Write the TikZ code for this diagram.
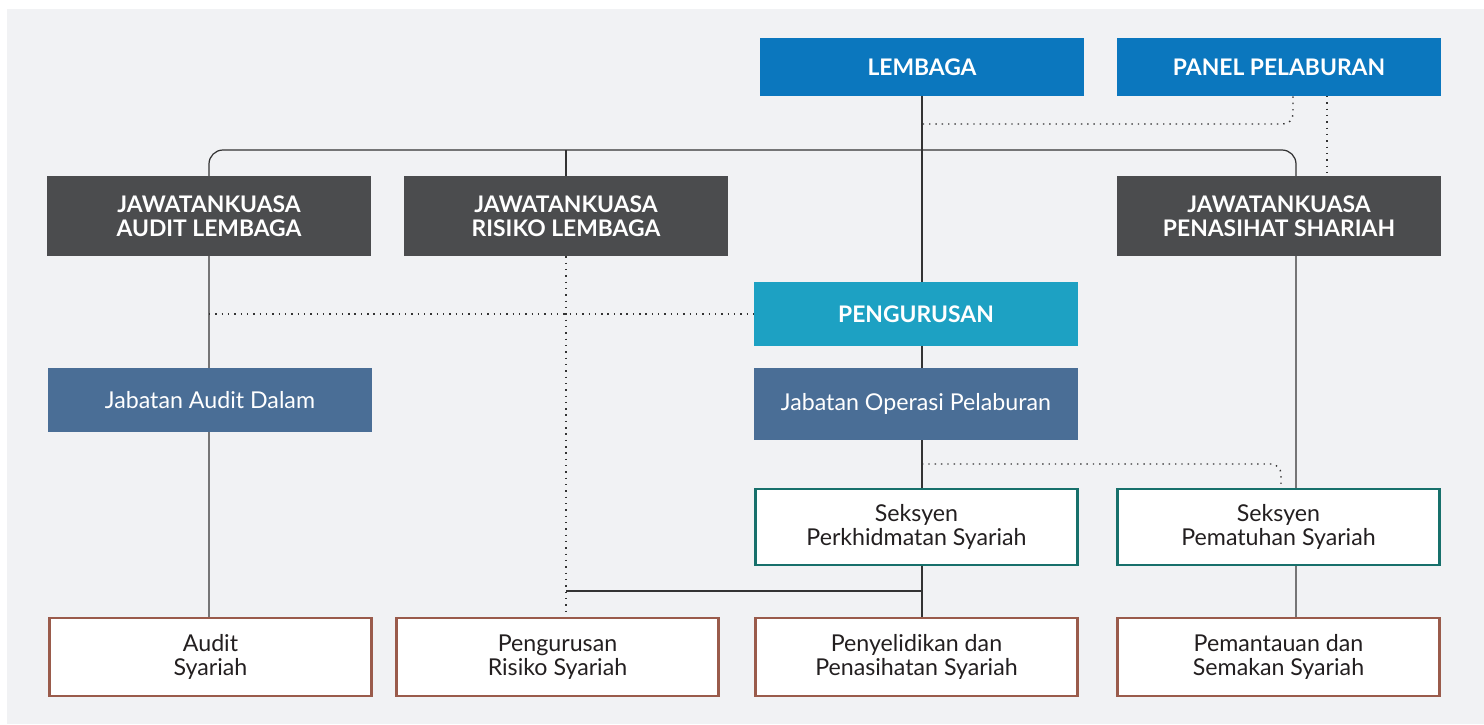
\documentclass[tikz,border=0pt]{standalone}
\usepackage{fontspec}
\setmainfont{Lato}
\usetikzlibrary{backgrounds}

\definecolor{lembagablue}{HTML}{0B77BE}
\definecolor{cmtegray}{HTML}{4B4C4E}
\definecolor{penggblue}{HTML}{1DA1C3}
\definecolor{deptblue}{HTML}{4A6E96}
\definecolor{sectteal}{HTML}{17706B}
\definecolor{unitbrown}{HTML}{9A5B4B}
\definecolor{bgfill}{HTML}{F1F2F4}
\definecolor{linkgray}{HTML}{333333}
\definecolor{textdark}{HTML}{231F20}

\begin{document}
\begin{tikzpicture}[x=0.02cm, y=-0.02cm,
    box/.style={rectangle, minimum width=6.48cm, align=center, inner sep=0pt,
      font=\fontsize{13.2}{13.6}\selectfont},
    head/.style={box, fill=lembagablue, text=white, minimum height=1.16cm,
      font=\bfseries\fontsize{13}{13.6}\selectfont},
    cmte/.style={head, fill=cmtegray, minimum height=1.6cm},
    mgmt/.style={head, fill=penggblue, minimum height=1.28cm},
    dept/.style={box, fill=deptblue, text=white},
    section/.style={box, draw=sectteal, line width=1.4pt, fill=white, text=textdark,
      minimum width=6.44cm, minimum height=1.52cm},
    unit/.style={section, draw=unitbrown, minimum height=1.56cm},
    link/.style={draw=linkgray, line width=0.7pt},
    note/.style={draw=linkgray, line width=0.8pt, dash pattern=on 0.8pt off 2.8pt}]

    % Board and panel
    \node[head] (lembaga) at (922,67) {LEMBAGA};
    \node[head] (panel) at (1279,67) {PANEL PELABURAN};

    % Committees
    \node[cmte] (jal) at (209,216) {JAWATANKUASA\\AUDIT LEMBAGA};
    \node[cmte] (jrl) at (566,216) {JAWATANKUASA\\RISIKO LEMBAGA};
    \node[cmte] (jps) at (1279,216) {JAWATANKUASA\\PENASIHAT SHARIAH};

    % Management and departments
    \node[mgmt] (peng) at (916,314) {PENGURUSAN};
    \node[dept, minimum height=1.28cm] (jad) at (210,400) {Jabatan Audit Dalam};
    \node[dept, minimum height=1.44cm] (jop) at (916,404) {Jabatan Operasi Pelaburan};

    % Sections
    \node[section] (sps) at (916.5,527) {Seksyen\\Perkhidmatan Syariah};
    \node[section] (spm) at (1278.5,527) {Seksyen\\Pematuhan Syariah};

    % Functions
    \node[unit] (as) at (210.5,657) {Audit\\Syariah};
    \node[unit] (prs) at (557.5,657) {Pengurusan\\Risiko Syariah};
    \node[unit] (pps) at (916.5,657) {Penyelidikan dan\\Penasihatan Syariah};
    \node[unit] (pss) at (1278.5,657) {Pemantauan dan\\Semakan Syariah};

    \coordinate (bus) at (922,150);
    \coordinate (spine) at (1296,150);
    \coordinate (tee) at (922,591);
    \coordinate (advice) at (1293,124);
    \coordinate (sharia) at (1327,96);
    \coordinate (ops) at (1281,464);

    % Connections
    \begin{scope}[on background layer]
      \fill[bgfill] (7,9) rectangle (1484,724);
      \draw[link, rounded corners=0.28cm] (jal |- as.north) -- (jal |- bus) -- (spine) -- (spine |- pss.north);
      \draw[link] (lembaga.south) -- (lembaga.south |- pps.north);
      \draw[link] (jrl |- bus) -- (jrl.north);
      \draw[link] (tee) -- (tee -| jrl);
      \draw[note] (jrl.south) -- (jrl |- prs.north);
      \draw[note] (jal |- peng.west) -- (peng.west);
      \draw[note, rounded corners=0.2cm] (advice |- panel.south) -- (advice) -- (lembaga.south |- advice);
      \draw[note] (sharia) -- (sharia |- jps.north);
      \draw[note, rounded corners=0.2cm] (lembaga.south |- ops) -- (ops) -- (ops |- spm.north);
    \end{scope}
    \useasboundingbox (0,0) rectangle (1484,724);
\end{tikzpicture}
\end{document}
